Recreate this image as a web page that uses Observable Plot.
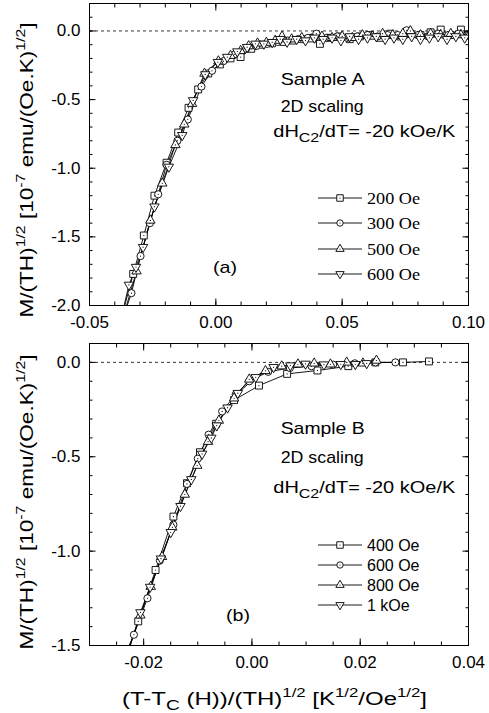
<!DOCTYPE html>
<html><head><meta charset="utf-8">
<script src="https://cdn.jsdelivr.net/npm/d3@7"></script>
<script src="https://cdn.jsdelivr.net/npm/@observablehq/plot@0.6"></script>
<style>
body{margin:0;background:#fff}
#chart{width:489px;height:713px;position:relative;background:#fff}
#chart svg{display:block}
</style></head><body><div id="chart"></div>
<script>
// ---------- Panel (a): Sample A ----------
const fieldsA = ["200 Oe", "300 Oe", "500 Oe", "600 Oe"];
const a200x = [-0.0375,-0.0327,-0.0285,-0.0243,-0.0195,-0.0149,-0.0108,-0.0070,-0.0030,0.0016,0.0058,0.0098,0.0140,0.0180,0.0222,0.0265,0.0305,0.0345,0.0385,0.0412,0.0450,0.0490,0.0530,0.0570,0.0610,0.0650,0.0690,0.0730,0.0770,0.0810,0.0850,0.0890,0.0930,0.0970,0.1000];
const a200y = [-2.10,-1.77,-1.49,-1.20,-0.96,-0.74,-0.56,-0.426,-0.31,-0.244,-0.20,-0.19,-0.13,-0.10,-0.09,-0.08,-0.07,-0.06,-0.05,-0.094,-0.05,-0.04,-0.06,-0.04,-0.03,-0.05,-0.02,-0.04,-0.02,-0.03,-0.01,0.01,-0.03,0.01,-0.03];
const a300x = [-0.0375,-0.0334,-0.0298,-0.0261,-0.0228,-0.0195,-0.0152,-0.0111,-0.0057,-0.0015,0.0030,0.0075,0.0120,0.0160,0.0203,0.0245,0.0285,0.0325,0.0365,0.0398,0.0440,0.0480,0.0520,0.0560,0.0600,0.0640,0.0680,0.0720,0.0755,0.0800,0.0840,0.0880,0.0920,0.0960,0.1000];
const a300y = [-2.13,-1.91,-1.64,-1.40,-1.19,-0.975,-0.80,-0.645,-0.405,-0.29,-0.22,-0.17,-0.13,-0.11,-0.094,-0.08,-0.07,-0.06,-0.05,-0.02,-0.05,-0.04,-0.05,-0.04,-0.03,-0.04,-0.03,-0.03,0.005,-0.03,-0.04,-0.02,-0.03,-0.02,-0.03];
const a500x = [-0.0372,-0.0314,-0.0259,-0.0212,-0.0160,-0.0125,-0.0094,-0.0045,0.0010,0.0058,0.0098,0.0130,0.0165,0.0200,0.0235,0.0262,0.0300,0.0340,0.0380,0.0420,0.0460,0.0500,0.0540,0.0580,0.0620,0.0660,0.0700,0.0740,0.0770,0.0810,0.0850,0.0890,0.0930,0.0970,0.1000];
const a500y = [-2.12,-1.75,-1.38,-1.11,-0.83,-0.68,-0.53,-0.31,-0.22,-0.18,-0.145,-0.11,-0.09,-0.085,-0.07,-0.04,-0.06,-0.05,-0.06,-0.04,-0.05,-0.04,-0.05,-0.03,-0.04,-0.02,-0.03,-0.02,0.00,-0.03,-0.02,-0.03,-0.02,-0.03,-0.04];
const a600x = [-0.0378,-0.0344,-0.0316,-0.0288,-0.0243,-0.0186,-0.0133,-0.0090,-0.0042,0.0008,0.0045,0.0085,0.0124,0.0157,0.0190,0.0223,0.0255,0.0282,0.0320,0.0355,0.0390,0.0425,0.0460,0.0495,0.0530,0.0565,0.0600,0.0635,0.0670,0.0705,0.0740,0.0775,0.0810,0.0845,0.0880,0.0915,0.0950,0.0985];
const a600y = [-2.12,-1.85,-1.72,-1.575,-1.28,-0.99,-0.76,-0.506,-0.317,-0.227,-0.19,-0.15,-0.118,-0.094,-0.094,-0.082,-0.06,-0.08,-0.06,-0.07,-0.05,-0.06,-0.05,-0.07,-0.04,-0.06,-0.05,-0.04,-0.06,-0.05,-0.06,-0.04,-0.06,-0.05,-0.04,-0.06,-0.04,-0.05];
const xTicksA = [-0.05, 0.00, 0.05, 0.10];
const yTicksA = [-2.0, -1.5, -1.0, -0.5, 0.0];

// ---------- Panel (b): Sample B ----------
const fieldsB = ["400 Oe", "600 Oe", "800 Oe", "1 kOe"];
const b400x = [-0.0232,-0.0210,-0.0178,-0.0145,-0.0120,-0.0096,-0.0066,-0.0033,0.0013,0.0065,0.0121,0.0178,0.0228,0.0279,0.0327];
const b400y = [-1.56,-1.372,-1.10,-0.817,-0.64,-0.476,-0.325,-0.20,-0.123,-0.061,-0.043,-0.02,0.0,0.0,0.005];
const b600x = [-0.0236,-0.0218,-0.0193,-0.0170,-0.0145,-0.0120,-0.0100,-0.0080,-0.0055,-0.0030,-0.0005,0.0030,0.0070,0.0110,0.0150,0.0190,0.0228,0.0265];
const b600y = [-1.56,-1.443,-1.25,-1.05,-0.86,-0.644,-0.51,-0.383,-0.26,-0.17,-0.10,-0.05,-0.03,-0.02,-0.012,-0.005,0.0,0.0];
const b800x = [-0.0233,-0.0206,-0.0187,-0.0166,-0.0147,-0.0124,-0.0101,-0.0081,-0.0061,-0.0033,-0.0005,0.0025,0.0055,0.0085,0.0115,0.0145,0.0175,0.0205,0.0230];
const b800y = [-1.56,-1.34,-1.188,-1.03,-0.874,-0.70,-0.547,-0.42,-0.308,-0.19,-0.09,-0.045,-0.02,-0.01,-0.005,-0.01,0.0,-0.005,0.01];
const b1kx = [-0.0231,-0.0206,-0.0188,-0.0168,-0.0150,-0.0132,-0.0112,-0.0092,-0.0075,-0.0065,-0.0045,-0.0026,0.0007,0.0040,0.0071,0.0099,0.0133,0.0164,0.0191,0.0212];
const b1ky = [-1.56,-1.325,-1.19,-1.04,-0.90,-0.762,-0.62,-0.485,-0.40,-0.335,-0.24,-0.163,-0.079,-0.026,-0.017,-0.008,-0.012,-0.01,-0.01,-0.005];
const xTicksB = [-0.02, 0.00, 0.02, 0.04];
const yTicksB = [-1.5, -1.0, -0.5, 0.0];

// marker styles per series index
const shapes = ["square", "circle", "triangle", "triangle"];
const rotations = [0, 0, 0, 180];
const radii = [3.9, 3.6, 3.5, 3.5];

function rowsOf(list) {
  const out = [];
  list.forEach((s, k) => s[0].forEach((x, j) => out.push({x, y: s[1][j], k})));
  return out;
}

function panel(cfg) {
  const data = rowsOf(cfg.series);
  const marks = [Plot.ruleY([0], {stroke: "black", strokeWidth: 0.8, strokeDasharray: "3,3"})];
  cfg.series.forEach((s, k) => marks.push(Plot.line(data.filter(d => d.k === k), {x: "x", y: "y", stroke: "black", strokeWidth: 0.9, clip: true})));
  cfg.series.forEach((s, k) => {
    const sub = data.filter(d => d.k === k);
    marks.push(Plot.dot(sub, {x: "x", y: "y", symbol: shapes[k], rotate: rotations[k], r: radii[k], fill: "white", stroke: "black", strokeWidth: 0.9, clip: true}));
    marks.push(Plot.dot(sub, {x: "x", y: "y", r: 0.6, fill: "black", stroke: "none", clip: true}));
  });
  const blank = () => "";
  const tk = (ticks, anchor, len) => {
    const o = {anchor, tickSize: len, tickFormat: blank, label: null, strokeWidth: 1};
    if (anchor === "bottom") o.dy = -len;
    if (anchor === "top") o.dy = len;
    if (anchor === "left") o.dx = len;
    if (anchor === "right") o.dx = -len;
    return (anchor === "bottom" || anchor === "top") ? Plot.axisX(ticks, o) : Plot.axisY(ticks, o);
  };
  ["bottom", "top"].forEach(a => { marks.push(tk(cfg.xMinor, a, 3.5)); marks.push(tk(cfg.xMajor, a, 6.5)); });
  ["left", "right"].forEach(a => { marks.push(tk(cfg.yMinor, a, 3.5)); marks.push(tk(cfg.yMajor, a, 6.5)); });
  marks.push(Plot.axisX(cfg.xMajor, {anchor: "bottom", tickSize: 0, tickPadding: 10, tickFormat: d => d.toFixed(2).replace("-0.00", "0.00"), label: null, fontSize: 17}));
  marks.push(Plot.axisY(cfg.yMajor, {anchor: "left", tickSize: 0, tickPadding: 9, tickFormat: d => d.toFixed(1), label: null, fontSize: 17}));
  marks.push(Plot.frame({stroke: "black", strokeWidth: 1}));
  return Plot.plot({
    width: 489, height: cfg.height,
    marginLeft: 89, marginRight: 21, marginTop: cfg.mt, marginBottom: cfg.mb,
    x: {domain: cfg.xDomain}, y: {domain: cfg.yDomain},
    style: {fontFamily: "Arial, 'Liberation Sans', sans-serif", fontSize: "17px", color: "black", background: "white", overflow: "visible"},
    marks
  });
}

const svgA = panel({
  series: [[a200x, a200y], [a300x, a300y], [a500x, a500y], [a600x, a600y]],
  xDomain: [-0.05, 0.10], yDomain: [-2.0, 0.2],
  xMajor: xTicksA, yMajor: yTicksA,
  xMinor: d3.range(-50, 101, 10).map(v => v / 1000),
  yMinor: d3.range(-20, 3, 1).map(v => v / 10),
  height: 333, mt: 3, mb: 28
});
const svgB = panel({
  series: [[b400x, b400y], [b600x, b600y], [b800x, b800y], [b1kx, b1ky]],
  xDomain: [-0.03, 0.04], yDomain: [-1.5, 0.1],
  xMajor: xTicksB, yMajor: yTicksB,
  xMinor: d3.range(-30, 41, 5).map(v => v / 1000),
  yMinor: d3.range(-15, 2, 1).map(v => v / 10),
  height: 380, mt: 10, mb: 68
});
const root = document.getElementById("chart");
root.appendChild(svgA);
root.appendChild(svgB);

const SANS = "Arial, 'Liberation Sans', sans-serif";
const SERIF = "'Liberation Serif', 'Times New Roman', 'DejaVu Serif', serif";

function richText(svg, parts, attrs) {
  const t = d3.select(svg).append("text").attr("fill", "black").attr("text-anchor", "start")
    .style("font-family", attrs.family || SANS).attr("font-size", attrs.size);
  Object.entries(attrs.a || {}).forEach(([k, v]) => t.attr(k, v));
  parts.forEach(p => {
    const s = t.append("tspan").text(p.t);
    if (p.sup) s.attr("dy", -attrs.size * 0.42).attr("font-size", attrs.size * 0.7);
    if (p.sub) s.attr("dy", attrs.size * 0.3).attr("font-size", attrs.size * 0.8);
    if (p.back) s.attr("dy", p.back);
  });
  return t;
}

function yLabel(svg, cy) {
  const s = 19;
  richText(svg, [
    {t: "M/(TH)"}, {t: "1/2", sup: true}, {t: " [10", back: s * 0.42}, {t: "-7", sup: true},
    {t: " emu/(Oe.K)", back: s * 0.42}, {t: "1/2", sup: true}, {t: "]", back: s * 0.42}
  ], {size: s, a: {"text-anchor": "middle", transform: `translate(33,${cy}) rotate(-90)`, textLength: 295, lengthAdjust: "spacingAndGlyphs"}});
}
yLabel(svgA, 170);
yLabel(svgB, 169);

function notes(svg, sample, b1, b2, b3, tag, tagX, tagY) {
  richText(svg, [{t: sample}], {size: 17, a: {x: 280.7, y: b1, textLength: 84, lengthAdjust: "spacingAndGlyphs"}});
  richText(svg, [{t: "2D scaling"}], {size: 17, a: {x: 280.7, y: b2, textLength: 83, lengthAdjust: "spacingAndGlyphs"}});
  richText(svg, [{t: "dH"}, {t: "C2", sub: true}, {t: "/dT= -20 kOe/K", back: -17 * 0.3}], {size: 17, a: {x: 273.3, y: b3, textLength: 182, lengthAdjust: "spacingAndGlyphs"}});
  richText(svg, [{t: tag}], {size: 17, a: {x: tagX, y: tagY, textLength: 24, lengthAdjust: "spacingAndGlyphs"}});
}
notes(svgA, "Sample A", 85, 112, 137, "(a)", 213, 273);
notes(svgB, "Sample B", 101, 130, 160, "(b)", 226, 288);

const legendSizes = [[d3.symbolSquare, 6.5 * 6.5], [d3.symbolCircle, Math.PI * 3.2 * 3.2], [d3.symbolTriangle, 30], [d3.symbolTriangle, 30]];
function legend(svg, names, rowsY, family, size, textLen) {
  const g = d3.select(svg).append("g").attr("text-anchor", "start");
  names.forEach((n, i) => {
    const cy = rowsY[i];
    g.append("line").attr("x1", 318).attr("x2", 362).attr("y1", cy).attr("y2", cy).attr("stroke", "black").attr("stroke-width", 0.9);
    g.append("path").attr("d", d3.symbol(legendSizes[i][0], legendSizes[i][1])())
      .attr("transform", `translate(340,${cy}) rotate(${rotations[i]})`)
      .attr("fill", "white").attr("stroke", "black").attr("stroke-width", 0.9);
    g.append("circle").attr("cx", 340).attr("cy", cy).attr("r", 0.6).attr("fill", "black");
    const t = g.append("text").attr("x", 367).attr("y", cy + size * 0.35).attr("text-anchor", "start")
      .style("font-family", family).attr("font-size", size).attr("fill", "black").text(n);
    if (textLen) t.attr("textLength", textLen).attr("lengthAdjust", "spacingAndGlyphs");
  });
}
legend(svgA, fieldsA, [198, 223, 249, 274], SERIF, 17, 53);
legend(svgB, fieldsB, [212, 232, 252, 272], SANS, 16, null);

// x-axis title (bottom panel)
richText(svgB, [
  {t: "(T-T"}, {t: "C", sub: true}, {t: " (H))/(TH)", back: -18 * 0.3}, {t: "1/2", sup: true},
  {t: " [K", back: 18 * 0.42}, {t: "1/2", sup: true}, {t: "/Oe", back: 18 * 0.42}, {t: "1/2", sup: true}, {t: "]", back: 18 * 0.42}
], {size: 18, a: {x: 274.5, y: 372, "text-anchor": "middle", textLength: 305, lengthAdjust: "spacingAndGlyphs"}});
</script>
</body></html>
